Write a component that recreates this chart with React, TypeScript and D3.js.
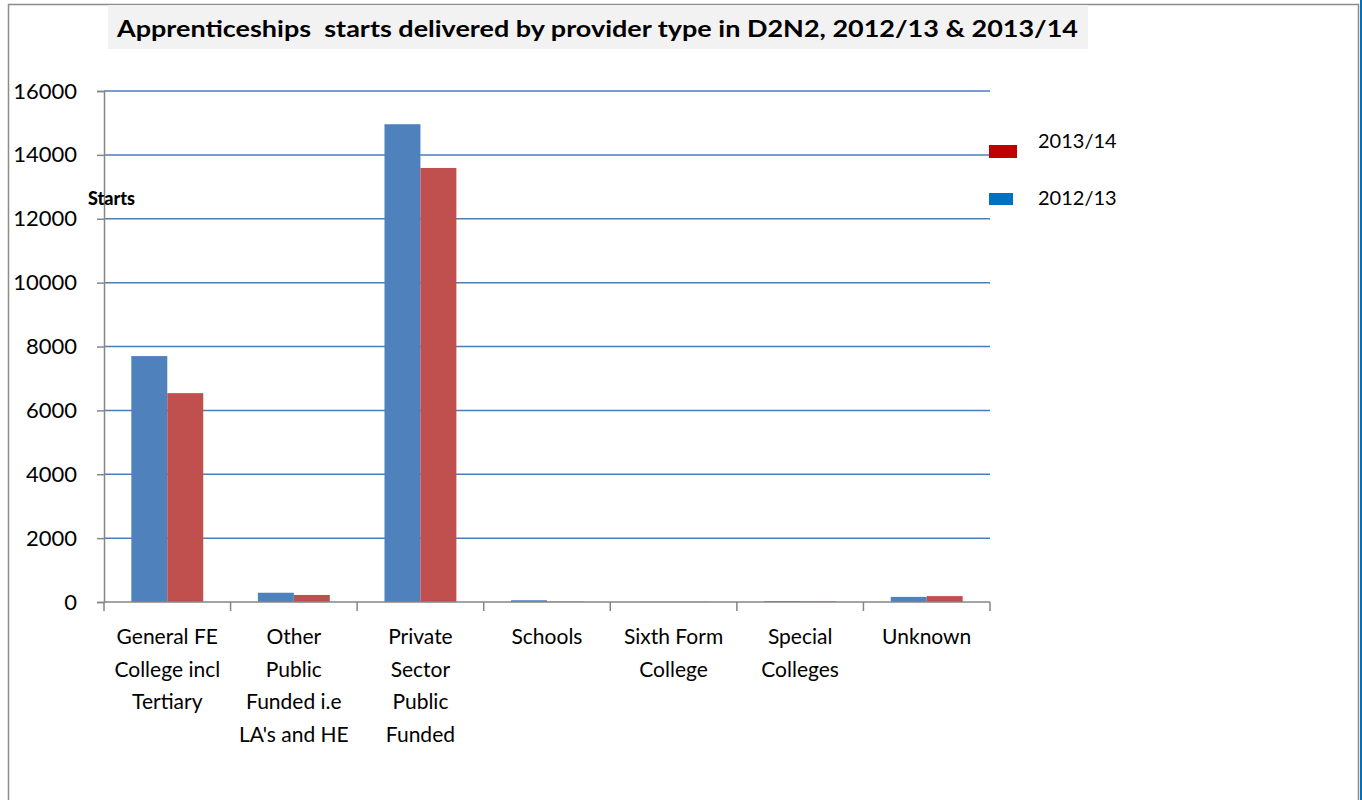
import React, { useEffect, useRef } from 'react';
import * as d3 from 'd3';

const categories: string[][] = [
  ['General FE', 'College incl', 'Tertiary'],
  ['Other', 'Public', 'Funded i.e', "LA's and HE"],
  ['Private', 'Sector', 'Public', 'Funded'],
  ['Schools'],
  ['Sixth Form', 'College'],
  ['Special', 'Colleges'],
  ['Unknown'],
];
const starts2012: number[] = [7700, 290, 14960, 55, 5, 30, 160];
const starts2013: number[] = [6540, 220, 13590, 10, 5, 20, 185];
const yTicks: number[] = [0, 2000, 4000, 6000, 8000, 10000, 12000, 14000, 16000];

const FONT = 'Lato, "Open Sans", sans-serif';

const App: React.FC = () => {
  const svgRef = useRef<SVGSVGElement | null>(null);

  useEffect(() => {
    const width = 1362;
    const height = 800;
    const plot = { left: 104, right: 990, top: 91, bottom: 602 };

    const svg = d3.select(svgRef.current).attr('width', width).attr('height', height);
    svg.selectAll('*').remove();

    // outer frame
    svg.append('rect').attr('x', 0).attr('y', 0).attr('width', width).attr('height', height).attr('fill', '#fff');
    svg.append('path')
      .attr('d', `M8.5,${height + 5} V4.5 H1358.5 V${height + 5}`)
      .attr('fill', 'none').attr('stroke', '#8c8c8c').attr('stroke-width', 1.5);
    svg.append('line').attr('x1', 1361).attr('x2', 1361).attr('y1', 0).attr('y2', height)
      .attr('stroke', '#0070c0').attr('stroke-width', 2);

    // title
    svg.append('rect').attr('x', 108).attr('y', 5).attr('width', 980).attr('height', 44).attr('fill', '#f2f2f2');
    svg.append('text')
      .attr('x', 117).attr('y', 37)
      .style('white-space', 'pre')
      .attr('font-family', FONT).attr('font-weight', 'bold').attr('font-size', 23)
      .attr('textLength', 961).attr('lengthAdjust', 'spacingAndGlyphs')
      .attr('fill', '#000')
      .text('Apprenticeships  starts delivered by provider type in D2N2, 2012/13 & 2013/14');

    const y = d3.scaleLinear().domain([0, 16000]).range([plot.bottom, plot.top]);
    const x = d3.scaleBand<number>().domain(d3.range(categories.length)).range([plot.left, plot.right]).paddingInner(0);
    const sub = d3.scaleBand<string>().domain(['a', 'b']).range([0, x.bandwidth()]).paddingInner(0).paddingOuter(0.76);

    // gridlines
    svg.append('g').selectAll('line')
      .data(yTicks.filter(t => t > 0))
      .enter().append('line')
      .attr('x1', plot.left).attr('x2', plot.right)
      .attr('y1', d => y(d)).attr('y2', d => y(d))
      .attr('stroke', '#4a7ebb').attr('stroke-width', 1.5);

    // y axis
    const yAxis = svg.append('g').attr('transform', `translate(${plot.left},0)`)
      .call(d3.axisLeft(y).tickValues(yTicks).tickSize(7).tickPadding(20).tickFormat(d => String(d)));
    yAxis.select('.domain').attr('stroke', '#868686').attr('stroke-width', 1.5);
    yAxis.selectAll('.tick line').attr('stroke', '#868686').attr('stroke-width', 1.5);
    yAxis.selectAll('.tick text').attr('font-family', FONT).attr('font-size', 22).attr('fill', '#000');

    // bars
    const groups = svg.append('g').selectAll('g')
      .data(categories.map((_, i) => i))
      .enter().append('g')
      .attr('transform', d => `translate(${x(d)},0)`);
    groups.append('rect')
      .attr('x', sub('a')!).attr('width', sub.bandwidth())
      .attr('y', d => y(starts2012[d])).attr('height', d => y(0) - y(starts2012[d]))
      .attr('fill', '#4f81bd');
    groups.append('rect')
      .attr('x', sub('b')!).attr('width', sub.bandwidth())
      .attr('y', d => y(starts2013[d])).attr('height', d => y(0) - y(starts2013[d]))
      .attr('fill', '#c0504d');

    // x axis
    svg.append('line').attr('x1', plot.left).attr('x2', plot.right).attr('y1', plot.bottom).attr('y2', plot.bottom)
      .attr('stroke', '#868686').attr('stroke-width', 1.5);
    svg.append('g').selectAll('line')
      .data(d3.range(categories.length + 1))
      .enter().append('line')
      .attr('x1', d => plot.left + d * x.step()).attr('x2', d => plot.left + d * x.step())
      .attr('y1', plot.bottom).attr('y2', plot.bottom + 9)
      .attr('stroke', '#868686').attr('stroke-width', 1.5);

    const labels = svg.append('g').selectAll('text')
      .data(categories.map((lines, i) => ({ lines, i })))
      .enter().append('text')
      .attr('font-family', FONT).attr('font-size', 21).attr('fill', '#000')
      .attr('text-anchor', 'middle');
    labels.selectAll('tspan')
      .data(d => d.lines.map((l, j) => ({ l, j, i: d.i })))
      .enter().append('tspan')
      .attr('x', d => x(d.i)! + x.bandwidth() / 2)
      .attr('y', d => 644 + d.j * 32.7)
      .text(d => d.l);

    // axis title
    svg.append('text').attr('x', 88).attr('y', 205)
      .attr('font-family', FONT).attr('font-weight', 900).attr('font-size', 18).attr('fill', '#000')
      .text('Starts');

    // legend
    const legend = [
      { label: '2013/14', color: '#c00000', y: 145, w: 28, h: 13, ty: 148 },
      { label: '2012/13', color: '#0070c0', y: 193, w: 24, h: 12, ty: 205 },
    ];
    const lg = svg.append('g').selectAll('g').data(legend).enter().append('g');
    lg.append('rect').attr('x', 989).attr('y', d => d.y).attr('width', d => d.w).attr('height', d => d.h).attr('fill', d => d.color);
    lg.append('text').attr('x', 1038).attr('y', d => d.ty)
      .attr('font-family', FONT).attr('font-size', 20).attr('fill', '#000')
      .text(d => d.label);
  }, []);

  return <svg ref={svgRef} style={{ position: 'absolute', left: 0, top: 0 }}></svg>;
};

export default App;
